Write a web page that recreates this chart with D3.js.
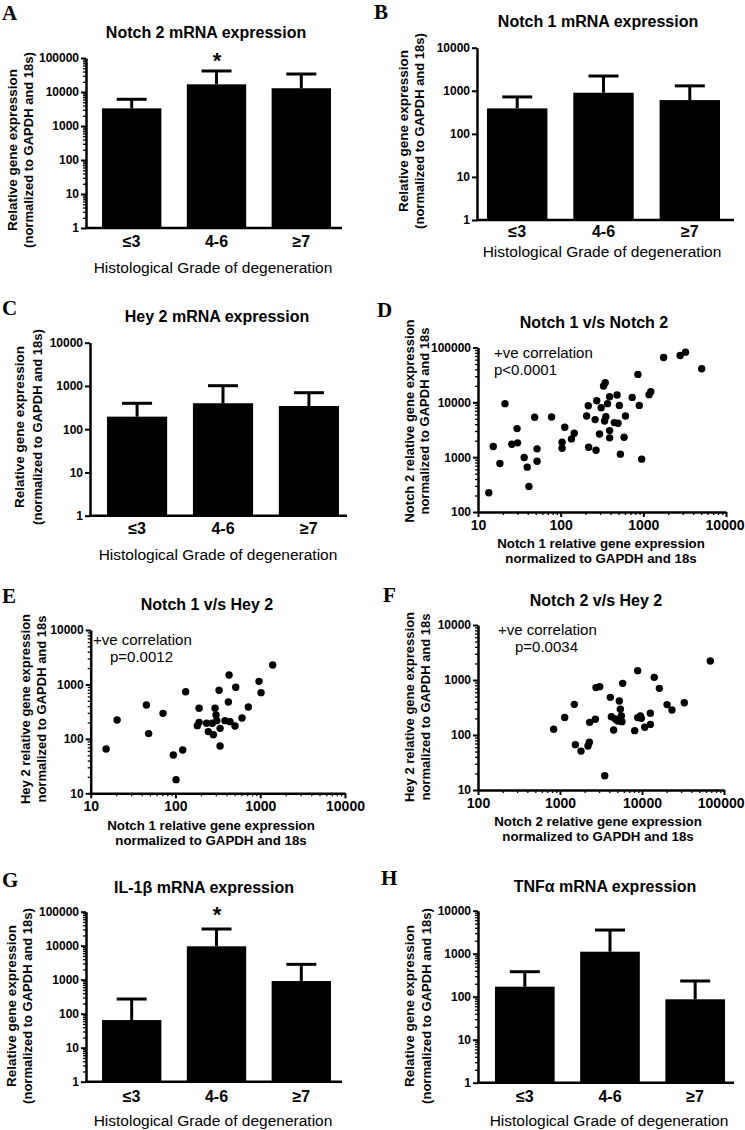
<!DOCTYPE html>
<html><head><meta charset="utf-8">
<script src="https://cdn.jsdelivr.net/npm/d3@7"></script>
<style>body{margin:0;background:#fff} svg{display:block}</style>
</head><body>
<svg id="chart" width="745" height="1130"></svg>
<script>
// ---------- DATA ----------
const grades = ["≤3", "4-6", "≥7"];
const notch2Mean = [3300, 16800, 12900];
const notch2Err  = [6100, 41500, 33800];
const notch1Mean = [390, 900, 608];
const notch1Err  = [720, 2200, 1300];
const hey2Mean   = [195, 398, 344];
const hey2Err    = [397, 1013, 698];
const il1bMean   = [65, 9600, 915];
const il1bErr    = [270, 31000, 2830];
const tnfMean    = [171, 1114, 87];
const tnfErr     = [381, 3550, 232];
const ticks1to1e5 = [1, 10, 100, 1000, 10000, 100000];
const ticks1to1e4 = [1, 10, 100, 1000, 10000];
const ticks10to1e4 = [10, 100, 1000, 10000];
const ticks100to1e5 = [100, 1000, 10000, 100000];

// D: Notch 1 (x) vs Notch 2 (y)
const dNotch1 = [13.5,15.3,18.4,21.2,25.6,30.1,29.7,36.2,39.4,41.3,48.5,51.8,51.8,77.6,104,104,112,135,146,206,216,218,261,273,268,295,309,330,346,340,352,369,391,391,391,481,446,494,513,528,585,608,733,860,893,955,1173,1230,1760,2790,3240,5080];
const dNotch2 = [225,1563,767,9460,1722,1824,3320,986,658,293,5330,1418,845,5400,1875,1458,3510,2155,2730,5650,8690,1520,4840,10700,1340,2650,8000,19800,22800,4580,5480,9460,12700,3050,2250,13600,4270,4150,8800,1135,2310,5650,12300,32300,8800,920,13800,15600,65800,71600,82200,40900];
// E: Notch 1 (x) vs Hey 2 (y)
const eNotch1 = [15.2,20.5,45.4,48.3,71.3,94.4,101.6,121.7,132,190,181,190,233,244,272,280,293,301,307,336,336,327,384,421,429,440,504,514,610,724,968,1022,1402];
const eHey2   = [65,222,419,125,294,50.6,17.8,62.4,736,364,175,201,193,136,193,119,364,274,216,156,74,780,216,476,1490,207,172,885,242,385,1140,706,2275];
// F: Notch 2 (x) vs Hey 2 (y)
const fNotch2 = [837,1140,1496,1540,1805,2195,2280,2300,2700,2750,3050,3510,4110,4230,4510,4730,5050,5290,5440,5600,5700,5810,8140,8860,8860,9550,9820,10800,12650,12650,14100,16300,20200,23200,32800,68100];
const fHey2   = [127,209,361,66.7,51,63,73.6,170,193,727,757,18.2,484,215,123,195,180,415,293,221,175,869,120,1480,207,221,201,138,156,248,1117,705,357,285,387,2215];

// ---------- DRAWING ----------
const svg = d3.select("#chart");
const SANS = "'Liberation Sans', Arial, Helvetica, sans-serif";
const SERIF = "'Liberation Serif', 'Times New Roman', serif";
const W = 745;

function minors(lo, hi) {
  const out = [];
  for (let d = lo; d < hi; d *= 10) for (let k = 2; k <= 9; k++) out.push(d * k);
  return out;
}
function styleAxis(sel, size) {
  sel.attr("font-size", size).attr("font-family", SANS);
  sel.select(".domain").attr("stroke", "#000").attr("stroke-width", 2.5);
  sel.selectAll(".tick line").attr("stroke", "#000").attr("stroke-width", 2);
  sel.selectAll(".tick text").attr("fill", "#000")
    .attr("font-family", SANS).attr("font-weight", "bold").attr("font-size", size);
}
function text(x, y, s, opts = {}) {
  return svg.append("text").attr("x", x).attr("y", y).text(s)
    .attr("font-family", opts.family || SANS)
    .attr("font-size", opts.size || 13)
    .attr("font-weight", opts.weight || "bold")
    .attr("text-anchor", opts.anchor || "middle")
    .attr("fill", "#000");
}
function vtext(x, y, s, size = 13) {
  svg.append("text").attr("transform", `translate(${x},${y}) rotate(-90)`)
    .text(s).attr("font-family", SANS).attr("font-size", size)
    .attr("font-weight", "bold").attr("text-anchor", "middle").attr("fill", "#000");
}
function yAxisLog(y, axisX, ticks, minorOn) {
  if (minorOn) {
    const d = y.domain();
    const mg = svg.append("g").attr("transform", `translate(${axisX},0)`);
    mg.call(d3.axisLeft(y).tickValues(minors(d[0], d[1])).tickFormat("").tickSize(3).tickSizeOuter(0));
    mg.select(".domain").remove();
    mg.selectAll(".tick line").attr("stroke", "#000").attr("stroke-width", 1.3);
  }
  const g = svg.append("g").attr("transform", `translate(${axisX},0)`);
  g.call(d3.axisLeft(y).tickValues(ticks).tickFormat(d3.format("d")).tickSize(5).tickPadding(2).tickSizeOuter(0));
  styleAxis(g, 12);
}
function xAxisLog(x, axisY, ticks) {
  const d = x.domain();
  const mg = svg.append("g").attr("transform", `translate(0,${axisY})`);
  mg.call(d3.axisBottom(x).tickValues(minors(d[0], d[1])).tickFormat("").tickSize(3).tickSizeOuter(0));
  mg.select(".domain").remove();
  mg.selectAll(".tick line").attr("stroke", "#000").attr("stroke-width", 1.3);
  const g = svg.append("g").attr("transform", `translate(0,${axisY})`);
  g.call(d3.axisBottom(x).tickValues(ticks).tickFormat(d3.format("d")).tickSize(5).tickPadding(3).tickSizeOuter(0));
  styleAxis(g, 14);
  // keep the last label inside the page
  g.selectAll(".tick").each(function (v) {
    const t = d3.select(this).select("text");
    const len = t.node().getComputedTextLength();
    const over = x(v) + len / 2 - (W - 1);
    if (over > 0) t.attr("dx", -over);
  });
}

function barPanel(c) {
  const y = d3.scaleLog().domain([1, c.ticks[c.ticks.length - 1]]).range([c.bottom, c.top]);
  const x = d3.scaleBand().domain(grades).range(c.band).paddingInner(0.3);
  const bw = x.bandwidth();
  const g = svg.append("g");
  const capW = 30;
  grades.forEach((k, i) => {
    const cx = x(k) + bw / 2;
    g.append("line").attr("x1", cx).attr("x2", cx).attr("y1", y(c.mean[i])).attr("y2", y(c.err[i]))
      .attr("stroke", "#000").attr("stroke-width", 3);
    g.append("line").attr("x1", cx - capW / 2).attr("x2", cx + capW / 2).attr("y1", y(c.err[i])).attr("y2", y(c.err[i]))
      .attr("stroke", "#000").attr("stroke-width", 3);
  });
  g.selectAll("rect.bar").data(c.mean).join("rect").attr("class", "bar")
    .attr("x", (d, i) => x(grades[i])).attr("y", d => y(d))
    .attr("width", bw).attr("height", d => c.bottom - y(d)).attr("fill", "#000");
  yAxisLog(y, c.axisX, c.ticks, c.minor);
  svg.append("line").attr("x1", c.axisX - 1).attr("x2", c.xEnd).attr("y1", c.bottom).attr("y2", c.bottom)
    .attr("stroke", "#000").attr("stroke-width", 2.5);
  grades.forEach(k => text(x(k) + bw / 2, c.tickBase, k, { size: 16 }));
  text(c.titleX, c.titleY, c.title, { size: 16 });
  text(c.xTitleX, c.xTitleY, "Histological Grade of degeneration", { size: 15.5, weight: "normal" });
  vtext(c.yT1, c.yTC, "Relative gene expression", 13.5);
  vtext(c.yT2, c.yTC, "(normalized to GAPDH and 18s)", 13);
  text(c.letterX, c.letterY, c.letter, { family: SERIF, size: 21, anchor: "start" });
  if (c.star != null) text(x(grades[c.star]) + bw / 2 + 0.5, c.starY, "*", { size: 22 });
}

function scatterPanel(c) {
  const x = d3.scaleLog().domain(c.xDom).range([c.axisX, c.xEnd]);
  const y = d3.scaleLog().domain(c.yDom).range([c.bottom, c.top]);
  svg.append("g").selectAll("circle").data(c.xs).join("circle")
    .attr("cx", d => x(d)).attr("cy", (d, i) => y(c.ys[i])).attr("r", 3.7).attr("fill", "#000");
  yAxisLog(y, c.axisX, c.yTicks, true);
  xAxisLog(x, c.bottom, c.xTicks);
  text(c.titleX, c.titleY, c.title, { size: 16 });
  text(c.xTitleX, c.xTitleY, c.xTitle1, { size: 13.3 });
  text(c.xTitleX, c.xTitleY + 15, "normalized to GAPDH and 18s", { size: 13.3 });
  vtext(c.yT1, c.yTC, c.yTitle1, 13);
  vtext(c.yT2, c.yTC, "normalized to GAPDH and 18s", 13);
  text(c.annX, c.annY, "+ve correlation", { size: 15, weight: "normal", anchor: "start" });
  text(c.annX2, c.annY + 17, c.pText, { size: 15, weight: "normal", anchor: "start" });
  text(c.letterX, c.letterY, c.letter, { family: SERIF, size: 21, anchor: "start" });
}

barPanel({ letter: "A", letterX: 2, letterY: 20, title: "Notch 2 mRNA expression", titleX: 206, titleY: 38,
  mean: notch2Mean, err: notch2Err, ticks: ticks1to1e5, minor: true,
  axisX: 86, top: 58, bottom: 228, xEnd: 342, band: [102, 331], tickBase: 247,
  xTitleX: 213, xTitleY: 273, yT1: 17, yT2: 33, yTC: 150, star: 1, starY: 68 });
barPanel({ letter: "B", letterX: 374, letterY: 19, title: "Notch 1 mRNA expression", titleX: 598, titleY: 27,
  mean: notch1Mean, err: notch1Err, ticks: ticks1to1e4, minor: false,
  axisX: 477, top: 47.7, bottom: 220, xEnd: 734, band: [487, 720], tickBase: 237,
  xTitleX: 602, xTitleY: 257, yT1: 408, yT2: 424, yTC: 131 });
barPanel({ letter: "C", letterX: 2, letterY: 315, title: "Hey 2 mRNA expression", titleX: 217, titleY: 322,
  mean: hey2Mean, err: hey2Err, ticks: ticks1to1e4, minor: false,
  axisX: 90, top: 342.7, bottom: 515.7, xEnd: 347, band: [107, 339], tickBase: 534,
  xTitleX: 218, xTitleY: 560, yT1: 24, yT2: 42, yTC: 427 });
scatterPanel({ letter: "D", letterX: 377, letterY: 317, title: "Notch 1 v/s Notch 2", titleX: 594, titleY: 328,
  xs: dNotch1, ys: dNotch2, xDom: [10, 10000], yDom: [100, 100000], xTicks: ticks10to1e4, yTicks: ticks100to1e5,
  axisX: 478, xEnd: 726, top: 347.5, bottom: 512,
  xTitle1: "Notch 1 relative gene expression", xTitleX: 601, xTitleY: 548,
  yTitle1: "Notch 2 relative gene expression", yT1: 414, yT2: 429, yTC: 421,
  annX: 494, annX2: 494, annY: 358, pText: "p<0.0001" });
scatterPanel({ letter: "E", letterX: 2, letterY: 603, title: "Notch 1 v/s Hey 2", titleX: 207, titleY: 610,
  xs: eNotch1, ys: eHey2, xDom: [10, 10000], yDom: [10, 10000], xTicks: ticks10to1e4, yTicks: ticks10to1e4,
  axisX: 90.7, xEnd: 345, top: 630, bottom: 793.3,
  xTitle1: "Notch 1 relative gene expression", xTitleX: 211, xTitleY: 830,
  yTitle1: "Hey 2 relative gene expression", yT1: 30, yT2: 46, yTC: 709,
  annX: 93, annX2: 110, annY: 645, pText: "p=0.0012" });
scatterPanel({ letter: "F", letterX: 383, letterY: 602, title: "Notch 2 v/s Hey 2", titleX: 596, titleY: 606,
  xs: fNotch2, ys: fHey2, xDom: [100, 100000], yDom: [10, 10000], xTicks: ticks100to1e5, yTicks: ticks10to1e4,
  axisX: 478, xEnd: 724, top: 625, bottom: 790,
  xTitle1: "Notch 2 relative gene expression", xTitleX: 598, xTitleY: 826,
  yTitle1: "Hey 2 relative gene expression", yT1: 414, yT2: 430, yTC: 707,
  annX: 498, annX2: 515, annY: 635, pText: "p=0.0034" });
barPanel({ letter: "G", letterX: 2, letterY: 887, title: "IL-1β mRNA expression", titleX: 204, titleY: 893,
  mean: il1bMean, err: il1bErr, ticks: ticks1to1e5, minor: true,
  axisX: 86, top: 911.7, bottom: 1081.7, xEnd: 342, band: [102, 331], tickBase: 1102,
  xTitleX: 213, xTitleY: 1126, yT1: 16, yT2: 32, yTC: 1006, star: 1, starY: 922 });
barPanel({ letter: "H", letterX: 381, letterY: 885, title: "TNFα mRNA expression", titleX: 605, titleY: 892,
  mean: tnfMean, err: tnfErr, ticks: ticks1to1e4, minor: true,
  axisX: 478, top: 910.7, bottom: 1082.7, xEnd: 734, band: [495, 725], tickBase: 1102,
  xTitleX: 609, xTitleY: 1126, yT1: 414, yT2: 431, yTC: 1006 });
</script>
</body></html>
